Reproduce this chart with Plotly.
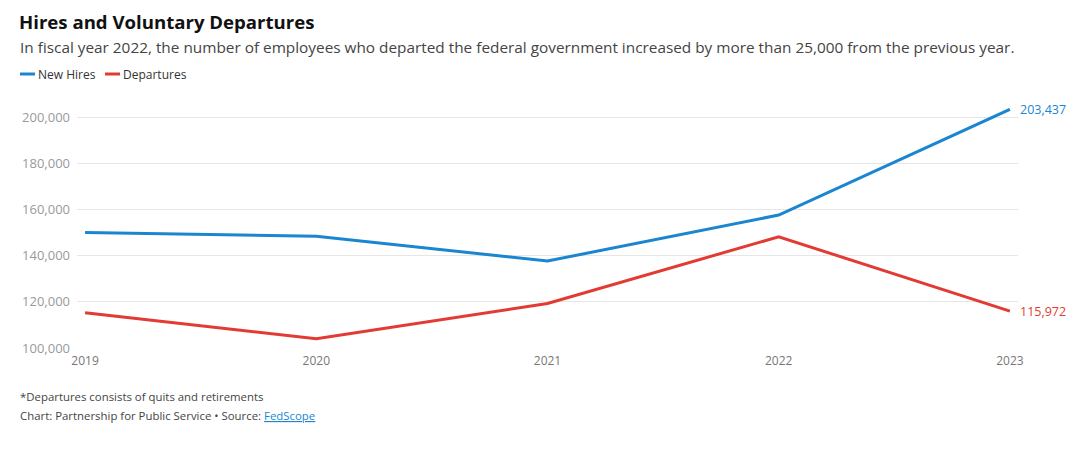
import plotly.graph_objects as go

years = [2019, 2020, 2021, 2022, 2023]
new_hires = [150100, 148400, 137700, 157600, 203437]
departures = [115300, 104000, 119300, 148200, 115972]
y_ticks = [100000, 120000, 140000, 160000, 180000, 200000]
y_tick_labels = ["100,000", "120,000", "140,000", "160,000", "180,000", "200,000"]

BLUE = "#1a86d0"
RED = "#e23b33"
FONT = "Open Sans"

OFF = 8  # page body margin
W, H = 1078 - 2 * OFF, 450 - 2 * OFF
ML = 77 - OFF
MR = W - (1018 - OFF)
MT = 108 - OFF
MB = H - (348 - OFF)
PW, PH = W - ML - MR, H - MT - MB


def px(xs):
    return (xs - OFF - ML) / PW


def py(ys):
    return 1 - (ys - OFF - MT) / PH


fig = go.Figure()
fig.add_trace(go.Scatter(x=years, y=new_hires, mode="lines", name="New Hires",
                         line=dict(color=BLUE, width=3), showlegend=False))
fig.add_trace(go.Scatter(x=years, y=departures, mode="lines", name="Departures",
                         line=dict(color=RED, width=3), showlegend=False))

# end labels
fig.add_annotation(x=years[-1], y=new_hires[-1], text=f"{new_hires[-1]:,}", showarrow=False,
                   xanchor="left", xshift=8, font=dict(family=FONT, size=12.5, color=BLUE))
fig.add_annotation(x=years[-1], y=departures[-1], text=f"{departures[-1]:,}", showarrow=False,
                   xanchor="left", xshift=8, font=dict(family=FONT, size=12.5, color=RED))

# title / subtitle
fig.add_annotation(xref="paper", yref="paper", x=px(18), y=py(OFF), xanchor="left", yanchor="top",
                   borderpad=0, text="<b>Hires and Voluntary Departures</b>", showarrow=False,
                   font=dict(family=FONT, size=18.6, color="#111111"))
fig.add_annotation(xref="paper", yref="paper", x=px(18), y=py(47), xanchor="left", yanchor="middle",
                   text="In fiscal year 2022, the number of employees who departed the federal government increased by more than 25,000 from the previous year.",
                   showarrow=False, font=dict(family=FONT, size=15.35, color="#444444"))

# legend
for x0, color, label in [(20, BLUE, "New Hires"), (105, RED, "Departures")]:
    fig.add_shape(type="line", xref="paper", yref="paper", x0=px(x0), x1=px(x0 + 15),
                  y0=py(74), y1=py(74), line=dict(color=color, width=3))
    fig.add_annotation(xref="paper", yref="paper", x=px(x0 + 16), y=py(74), xanchor="left",
                       yanchor="middle", text=label, showarrow=False,
                       font=dict(family=FONT, size=12, color="#333333"))

# footer
fig.add_annotation(xref="paper", yref="paper", x=px(18), y=py(396), xanchor="left", yanchor="middle",
                   text="*Departures consists of quits and retirements", showarrow=False,
                   font=dict(family=FONT, size=11.4, color="#444444"))
fig.add_annotation(xref="paper", yref="paper", x=px(18), y=py(415), xanchor="left", yanchor="middle",
                   text="Chart: Partnership for Public Service • Source: <span style='color:#1a86d0'><u>FedScope</u></span>",
                   showarrow=False, font=dict(family=FONT, size=11.4, color="#444444"))

fig.update_layout(
    width=W, height=H,
    margin=dict(l=ML, r=MR, t=MT, b=MB),
    paper_bgcolor="white", plot_bgcolor="white",
    font=dict(family=FONT),
    xaxis=dict(range=[2018.965, 2023.035], tickvals=years, ticktext=[str(y) for y in years],
               showgrid=False, zeroline=False, showline=False, ticks="", ticklabelstandoff=4,
               tickfont=dict(family=FONT, size=12, color="#777777")),
    yaxis=dict(range=[100000, 204000], tickvals=y_ticks, ticktext=y_tick_labels,
               showgrid=True, gridcolor="#e6e6e6", gridwidth=1, zeroline=False, showline=False,
               ticks="", ticklabelstandoff=6,
               tickfont=dict(family=FONT, size=13, color="#9a9a9a")),
    showlegend=False,
    hovermode=False,
)

fig.write_html("out.html")
